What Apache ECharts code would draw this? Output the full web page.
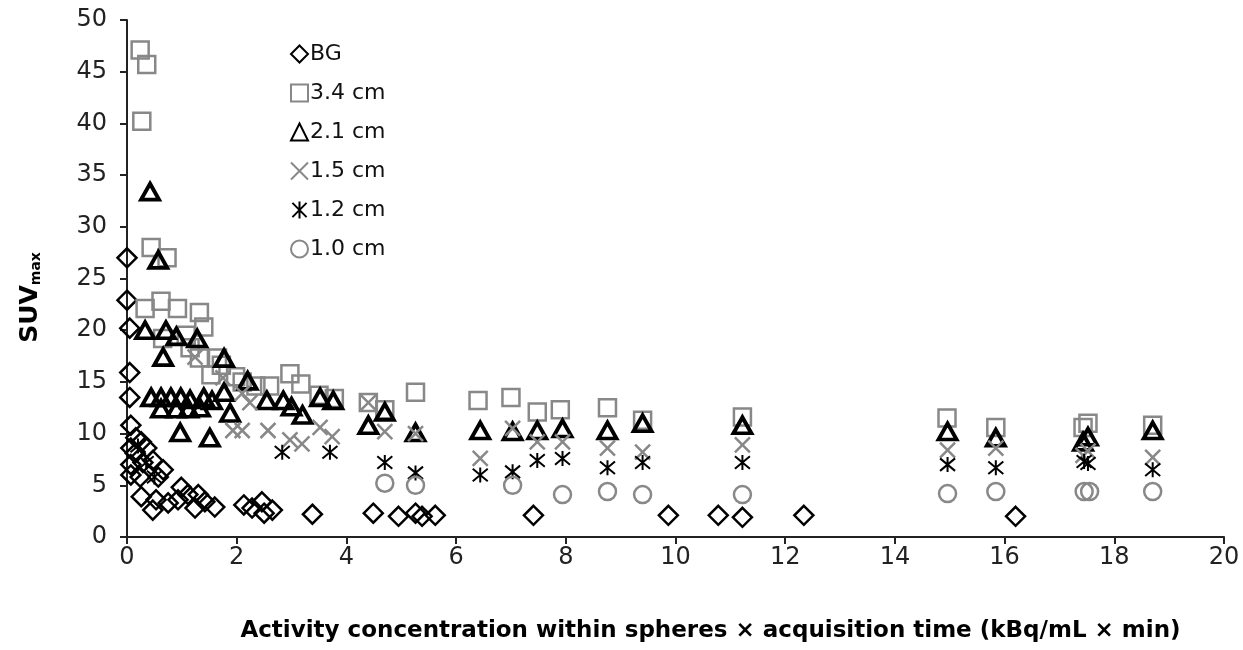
<!DOCTYPE html>
<html>
<head>
<meta charset="utf-8">
<script src="https://cdn.jsdelivr.net/npm/echarts@6/dist/echarts.min.js"></script>
<style>
  html, body { margin: 0; padding: 0; background: #fff; }
  #chart { width: 1243px; height: 650px; }
</style>
</head>
<body>
<div id="chart"></div>
<script>
const seriesNames = ['BG', '3.4 cm', '2.1 cm', '1.5 cm', '1.2 cm', '1.0 cm'];

const bg = [
    [0.0, 27.0], [0.0, 22.9], [0.05, 20.2], [0.05, 15.9], [0.05, 13.5], [0.07, 10.8],
    [0.16, 9.6], [0.07, 8.6], [0.26, 9.2], [0.15, 8.1], [0.36, 8.6], [0.29, 7.2],
    [0.47, 7.4], [0.07, 7.0], [0.07, 6.0], [0.66, 6.5], [0.57, 5.8], [0.24, 5.8],
    [0.26, 3.9], [0.53, 3.6], [0.47, 2.6], [0.75, 3.3], [0.99, 4.8], [1.11, 4.1],
    [0.93, 3.6], [1.3, 4.1], [1.42, 3.4], [1.24, 2.8], [1.6, 2.9], [2.13, 3.1],
    [2.28, 2.8], [2.46, 3.4], [2.5, 2.3], [2.65, 2.6], [3.38, 2.2], [4.49, 2.3],
    [4.95, 2.0], [5.26, 2.3], [5.38, 2.0], [5.62, 2.1], [7.41, 2.1], [9.87, 2.1],
    [10.78, 2.1], [11.22, 1.9], [12.34, 2.1], [16.2, 2.0]
];

const cm34 = [
    [0.24, 47.1], [0.36, 45.7], [0.27, 40.2], [0.44, 28.0], [0.73, 27.0], [0.33, 22.1],
    [0.62, 22.8], [0.92, 22.1], [1.32, 21.7], [1.4, 20.3], [0.65, 19.2], [1.08, 19.5],
    [1.15, 18.3], [1.32, 17.3], [1.65, 17.3], [1.53, 15.7], [1.72, 16.6], [1.98, 15.5],
    [2.1, 15.0], [2.35, 14.6], [2.6, 14.6], [2.97, 15.8], [3.17, 14.8], [3.5, 13.7],
    [3.78, 13.4], [4.4, 13.0], [4.7, 12.3], [5.26, 14.0], [6.4, 13.2], [7.0, 13.5],
    [7.48, 12.1], [7.9, 12.3], [8.76, 12.5], [9.4, 11.3], [11.22, 11.6], [14.95, 11.5],
    [15.84, 10.6], [17.43, 10.6], [17.52, 11.0], [18.7, 10.8]
];

const cm21 = [
    [0.42, 33.4], [0.57, 26.8], [0.33, 20.0], [0.71, 20.0], [0.9, 19.4], [1.28, 19.2],
    [0.66, 17.4], [1.77, 17.3], [0.44, 13.5], [0.62, 13.5], [0.8, 13.5], [0.98, 13.5],
    [1.15, 13.3], [1.4, 13.5], [1.55, 13.2], [0.62, 12.4], [0.9, 12.4], [1.12, 12.4],
    [1.33, 12.5], [0.97, 10.1], [1.51, 9.6], [1.77, 14.0], [1.88, 12.0], [2.2, 15.1],
    [2.55, 13.2], [2.85, 13.2], [3.0, 12.6], [3.2, 11.8], [3.52, 13.5], [3.76, 13.2],
    [4.4, 10.8], [4.7, 12.1], [5.26, 10.1], [6.44, 10.3], [7.03, 10.2], [7.48, 10.3],
    [7.94, 10.5], [8.76, 10.3], [9.4, 11.0], [11.22, 10.8], [14.96, 10.2], [15.84, 9.6],
    [17.43, 9.2], [17.52, 9.7], [18.7, 10.3]
];

const cm15 = [
    [1.24, 17.4], [1.75, 15.4], [2.1, 13.9], [2.24, 13.0], [1.93, 10.3], [2.1, 10.3],
    [2.57, 10.3], [2.97, 9.4], [3.19, 9.0], [3.52, 10.6], [3.74, 9.7], [4.4, 13.0],
    [4.7, 10.2], [5.26, 10.0], [6.44, 7.6], [7.03, 10.5], [7.48, 9.2], [7.94, 9.2],
    [8.76, 8.6], [9.4, 8.2], [11.22, 8.9], [14.96, 8.4], [15.84, 8.6], [17.43, 7.9],
    [17.52, 8.3], [18.7, 7.7]
];

const cm12 = [
    [0.2, 8.8], [0.35, 7.2], [0.5, 5.8], [2.83, 8.2], [3.7, 8.2], [4.7, 7.2],
    [5.26, 6.2], [6.44, 6.0], [7.03, 6.3], [7.48, 7.4], [7.94, 7.6], [8.76, 6.7],
    [9.4, 7.2], [11.22, 7.2], [14.96, 7.0], [15.84, 6.7], [17.45, 7.3], [17.52, 7.1],
    [18.7, 6.5]
];

const cm10 = [
    [4.7, 5.2], [5.26, 5.0], [7.03, 5.0], [7.94, 4.1], [8.76, 4.4], [9.4, 4.1],
    [11.22, 4.1], [14.96, 4.2], [15.84, 4.4], [17.45, 4.4], [17.55, 4.4], [18.7, 4.4]
];

const crossPath = 'path://M0,0L10,10M10,0L0,10';
const starPath = 'path://M0,0L10,10M10,0L0,10M5,-1L5,11';

function scatter(name, data, symbol, size, color, width) {
    return {
        name: name,
        type: 'scatter',
        data: data,
        symbol: symbol,
        symbolSize: size,
        itemStyle: {
            color: 'transparent',
            borderColor: color,
            borderWidth: width,
            opacity: 1
        }
    };
}

const chart = echarts.init(document.getElementById('chart'));
const option = {
    animation: false,
    textStyle: { fontFamily: 'DejaVu Sans, sans-serif' },
    grid: { left: 127, right: 19, top: 20, bottom: 113 },
    legend: {
        orient: 'vertical',
        left: 285,
        top: 38,
        itemGap: 17,
        itemWidth: 17,
        itemHeight: 17,
        data: seriesNames,
        textStyle: { fontSize: 22, color: '#111', padding: [0, 0, 0, -3] }
    },
    xAxis: {
        type: 'value',
        min: 0,
        max: 20,
        interval: 2,
        name: 'Activity concentration within spheres × acquisition time (kBq/mL × min)',
        nameLocation: 'middle',
        nameGap: 83,
        nameTextStyle: { fontSize: 23, fontWeight: 'bold', color: '#000', padding: [0, 0, 0, 70] },
        axisLine: { lineStyle: { color: '#222', width: 2 } },
        axisTick: { length: 7, lineStyle: { color: '#222', width: 2 } },
        axisLabel: { fontSize: 24, color: '#222', margin: 9 },
        splitLine: { show: false }
    },
    yAxis: {
        type: 'value',
        min: 0,
        max: 50,
        interval: 5,
        name: '{a|SUV}{b|max}',
        nameLocation: 'middle',
        nameGap: 84,
        nameTextStyle: {
            padding: [0, 38, 0, 0],
            rich: {
                a: { fontSize: 25, fontWeight: 'bold', color: '#000' },
                b: { fontSize: 14, fontWeight: 'bold', color: '#000', padding: [12, 0, 0, 0] }
            }
        },
        axisLine: { show: true, lineStyle: { color: '#222', width: 2 } },
        axisTick: { show: true, length: 7, lineStyle: { color: '#222', width: 2 } },
        axisLabel: { fontSize: 24, color: '#222', margin: 20 },
        splitLine: { show: false }
    },
    series: [
        scatter('BG', bg, 'diamond', 19, '#000', 2.5),
        scatter('3.4 cm', cm34, 'rect', 17, '#888', 2.5),
        scatter('2.1 cm', cm21, 'triangle', [18, 16], '#000', 3.8),
        scatter('1.5 cm', cm15, crossPath, 15, '#888', 2.5),
        scatter('1.2 cm', cm12, starPath, 15, '#000', 2),
        scatter('1.0 cm', cm10, 'circle', 17, '#888', 2.5)
    ]
};
chart.setOption(option);
</script>
</body>
</html>
